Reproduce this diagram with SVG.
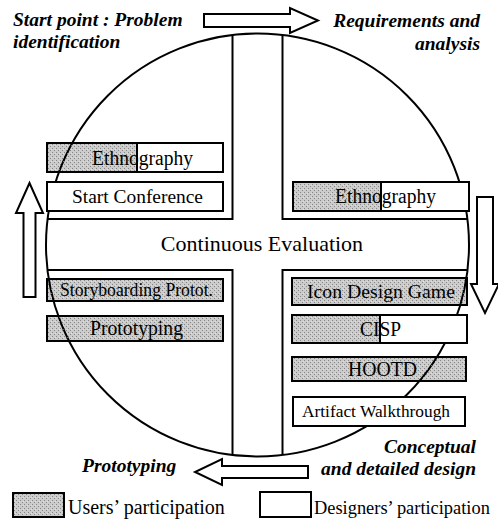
<svg xmlns="http://www.w3.org/2000/svg" width="498" height="527" viewBox="0 0 498 527">
<defs>
<pattern id="stip" width="4" height="4" patternUnits="userSpaceOnUse">
<rect width="4" height="4" fill="#000" fill-opacity="0.2"/>
<rect x="0" y="0" width="1" height="1" fill="#000" fill-opacity="0.35"/>
<rect x="2" y="2" width="1" height="1" fill="#000" fill-opacity="0.35"/>
<rect x="3" y="1" width="1" height="1" fill="#fff" fill-opacity="0.4"/>
</pattern>
<style>
.ln{fill:none;stroke:#000;stroke-width:2}
.ol{fill:none;stroke:#000;stroke-width:2}
.wh{fill:#fff}
.gr{fill:url(#stip)}
.arr{fill:#fff;stroke:#000;stroke-width:2;stroke-linejoin:miter}
.t{font-family:"Liberation Serif","Times New Roman",serif;fill:#000;text-anchor:middle}
.lbl{font-family:"Liberation Serif","Times New Roman",serif;font-style:italic;font-weight:bold;font-size:19.5px;fill:#000}
.lg{font-family:"Liberation Serif","Times New Roman",serif;font-size:20px;fill:#000}
</style>
</defs>
<rect width="498" height="527" fill="#fff"/>

<g id="frame">
<circle class="ln" cx="257.5" cy="245" r="211.5"/>
<path class="ln" d="M232.5,35.2 L232.5,219 L47.6,219"/>
<path class="ln" d="M282.5,35.2 L282.5,219 L467.4,219"/>
<path class="ln" d="M47.5,270 L232.5,270 L232.5,454.8"/>
<path class="ln" d="M467.5,270 L282.5,270 L282.5,454.8"/>
</g>

<g id="connectors">
<path class="arr" d="M204,14 L290,14 L290,8 L318,20.5 L290,33 L290,27 L204,27 Z"/>
<path class="arr" d="M477,197 L493,197 L493,284 L499,284 L485,313 L471,284 L477,284 Z"/>
<path class="arr" d="M308,466 L222,466 L222,459 L195,472 L222,485 L222,478 L308,478 Z"/>
<path class="arr" d="M23.5,297 L23.5,213 L16,213 L29.5,183 L43,213 L35.5,213 L35.5,297 Z"/>
</g>

<g id="label-start">
<text class="lbl" x="13" y="26">Start point : Problem</text>
<text class="lbl" x="13" y="48">identification</text>
</g>
<g id="label-requirements">
<text class="lbl" x="480" y="27" text-anchor="end">Requirements and</text>
<text class="lbl" x="480" y="50" text-anchor="end">analysis</text>
</g>
<g id="label-design">
<text class="lbl" x="476" y="453" text-anchor="end">Conceptual</text>
<text class="lbl" x="476" y="475" text-anchor="end">and detailed design</text>
</g>
<g id="label-prototyping">
<text class="lbl" x="82" y="472">Prototyping</text>
</g>
<g id="label-evaluation">
<text class="t" x="262" y="251" font-size="22">Continuous Evaluation</text>
</g>

<g id="box-ethnography-1">
<rect class="gr" x="47" y="143" width="90" height="29"/>
<rect class="wh" x="137" y="143" width="86" height="29"/>
<rect class="ol" x="47" y="143" width="176" height="29"/>
<line class="ln" x1="137" y1="143" x2="137" y2="172"/>
<text class="t" x="142.5" y="164.5" font-size="20" textLength="101" lengthAdjust="spacingAndGlyphs">Ethnography</text>
</g>
<g id="box-start-conference">
<rect x="47" y="182" width="176" height="29" style="fill:#fff;stroke:#000;stroke-width:2"/>
<text class="t" x="137.5" y="203" font-size="19.5" textLength="131" lengthAdjust="spacingAndGlyphs">Start Conference</text>
</g>
<g id="box-storyboarding">
<rect class="gr" x="47" y="279" width="176" height="22"/>
<rect class="ol" x="47" y="279" width="176" height="22"/>
<text class="t" x="136.5" y="296" font-size="18" textLength="153" lengthAdjust="spacingAndGlyphs">Storyboarding Protot.</text>
</g>
<g id="box-prototyping">
<rect class="gr" x="47" y="316" width="176" height="25"/>
<rect class="ol" x="47" y="316" width="176" height="25"/>
<text class="t" x="136.5" y="335" font-size="20" textLength="93" lengthAdjust="spacingAndGlyphs">Prototyping</text>
</g>

<g id="box-ethnography-2">
<rect class="gr" x="293" y="182" width="88" height="29"/>
<rect class="wh" x="381" y="182" width="88" height="29"/>
<rect class="ol" x="293" y="182" width="176" height="29"/>
<line class="ln" x1="381" y1="182" x2="381" y2="211"/>
<text class="t" x="385.5" y="203" font-size="20" textLength="101" lengthAdjust="spacingAndGlyphs">Ethnography</text>
</g>
<g id="box-icon-design-game">
<rect class="gr" x="292" y="278" width="175" height="27"/>
<rect class="ol" x="292" y="278" width="175" height="27"/>
<text class="t" x="381" y="298" font-size="19" textLength="148" lengthAdjust="spacingAndGlyphs">Icon Design Game</text>
</g>
<g id="box-cisp">
<rect class="gr" x="292" y="315" width="88" height="28"/>
<rect class="wh" x="380" y="315" width="87" height="28"/>
<rect class="ol" x="292" y="315" width="175" height="28"/>
<line class="ln" x1="380" y1="315" x2="380" y2="343"/>
<text class="t" x="380.5" y="336" font-size="20" textLength="41" lengthAdjust="spacingAndGlyphs">CISP</text>
</g>
<g id="box-hootd">
<rect class="gr" x="292" y="357" width="174" height="24"/>
<rect class="ol" x="292" y="357" width="174" height="24"/>
<text class="t" x="382.5" y="376" font-size="20" textLength="69" lengthAdjust="spacingAndGlyphs">HOOTD</text>
</g>
<g id="box-artifact-walkthrough">
<rect x="293" y="397" width="172" height="29" style="fill:#fff;stroke:#000;stroke-width:2"/>
<text class="t" x="376" y="417" font-size="17.5" textLength="148" lengthAdjust="spacingAndGlyphs">Artifact Walkthrough</text>
</g>

<g id="legend-users">
<rect class="gr" x="13" y="493" width="51" height="24"/>
<rect class="ol" x="13" y="493" width="51" height="24"/>
<text class="lg" x="68" y="514">Users’ participation</text>
</g>
<g id="legend-designers">
<rect x="260" y="492" width="51" height="25" style="fill:#fff;stroke:#000;stroke-width:2"/>
<text class="lg" x="314" y="514" style="font-size:18.4px">Designers’ participation</text>
</g>
</svg>
